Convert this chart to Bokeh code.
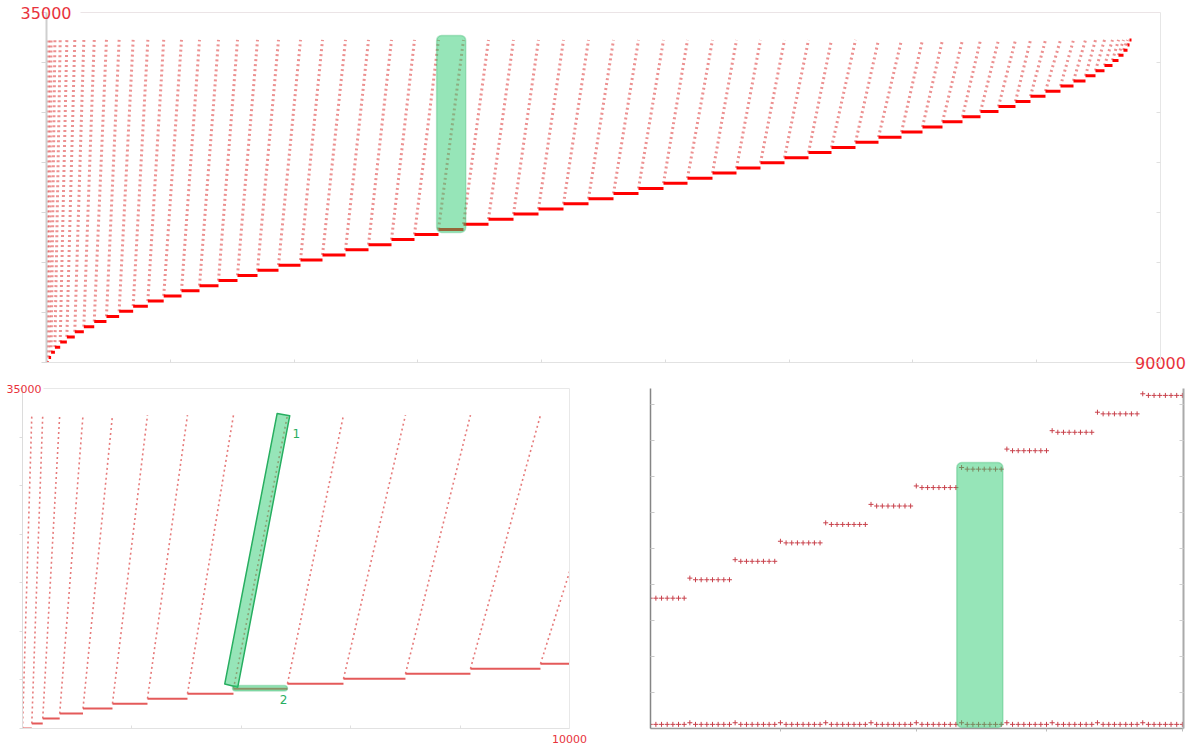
from bokeh.plotting import figure
from bokeh.layouts import column, row
from bokeh.models import Range1d, LinearAxis, FixedTicker, Label, BoxAnnotation
from bokeh.embed import file_html
from bokeh.resources import INLINE

# ---------------- data ----------------
# value levels of the runs (one level per run)
levels = [0, 512, 1024, 1536, 2048, 2560, 3072, 3584, 4096, 4608, 5120, 5632,
          6144, 6656, 7168, 7680, 8192, 8704, 9216, 9728, 10240, 10752, 11264,
          11776, 12288, 12800, 13312, 13824, 14336, 14848, 15360, 15872, 16384,
          16896, 17408, 17920, 18432, 18944, 19456, 19968, 20480, 20992, 21504,
          22016, 22528, 23040, 23552, 24064, 24576, 25088, 25600, 26112, 26624,
          27136, 27648, 28160, 28672, 29184, 29696, 30208, 30720, 31232, 31744,
          32256]
# x position where each run starts
step_starts = [0, 170, 370, 680, 1106, 1645, 2285, 3016, 3857, 4844, 5868, 7001,
               8189, 9469, 10907, 12361, 13896, 15431, 17047, 18743, 20521, 22298,
               24156, 26015, 27873, 29731, 31670, 33690, 35710, 37730, 39749, 41769,
               43789, 45808, 47828, 49848, 51787, 53806, 55745, 57684, 59623, 61562,
               63420, 65359, 67217, 69075, 70772, 72388, 74003, 75458, 76912, 78285,
               79497, 80709, 81921, 82971, 83941, 84749, 85476, 86122, 86607, 87011,
               87334, 87496]
run_end = 87657

top_x_max = 90000
y_max = 35000
zoom_x_max = 10000

# detail panel (bottom right): groups of 8 samples
rs_group_size = 8
rs_top_levels = [3620, 4132, 4644, 5156, 5668, 6180, 6692, 7204, 7716, 8228, 8740, 9252]
rs_bottom_levels = [115, 115, 115, 115, 115, 115, 115, 115, 115, 115, 115, 115]
rs_lead_bump = 45
rs_y_max = 9444

highlight_col = 26      # top panel highlight
callout_col = 8         # bottom-left callouts 1 and 2
rs_highlight_group = 7  # bottom-right highlight

RED_TXT = "#e8323c"
GREEN_FILL = "#2ecc71"
GREEN_LINE = "#27ae60"

# ---------------- derived segments ----------------
bar_x0 = step_starts
bar_x1 = step_starts[1:] + [run_end]
bar_y = levels
col_x0 = step_starts[:-1]
col_y0 = levels[:-1]
col_x1 = step_starts[1:]
col_y1 = [levels[-1]] * (len(levels) - 1)


def style_axis(ax, major, minor, tick_in, tick_out, tick_color, line_color,
               line_width=1, font_size="11px", standoff=5):
    ax.ticker = FixedTicker(ticks=major, minor_ticks=minor)
    ax.axis_line_color = line_color
    ax.axis_line_width = line_width
    ax.major_tick_in = tick_in
    ax.major_tick_out = tick_out
    ax.minor_tick_in = tick_in
    ax.minor_tick_out = tick_out
    ax.major_tick_line_color = tick_color
    ax.minor_tick_line_color = tick_color
    ax.major_label_text_color = RED_TXT
    ax.major_label_text_font = "DejaVu Sans"
    ax.major_label_text_font_size = font_size
    ax.major_label_standoff = standoff
    ax.axis_label = None


def border_axis(line_color, bounds=None):
    ax = LinearAxis()
    style_axis(ax, [], [], 0, 0, None, line_color)
    if bounds is not None:
        ax.bounds = bounds
    return ax


# ---------------- top panel ----------------
p_top = figure(width=1195, height=374, x_range=Range1d(0, top_x_max),
               y_range=Range1d(0, y_max), output_backend="svg", toolbar_location=None,
               min_border_left=46, min_border_right=35, min_border_top=12,
               min_border_bottom=12)
p_top.grid.visible = False
p_top.outline_line_color = None
style_axis(p_top.yaxis[0], [35000], [0, 5000, 10000, 15000, 20000, 25000, 30000],
           0, 5, "#d8d8d8", "#cfcfcf", 2, "16px", -30)
p_top.yaxis[0].major_label_overrides = {35000: "35000"}
style_axis(p_top.xaxis[0], [90000],
           [0, 10000, 20000, 30000, 40000, 50000, 60000, 70000, 80000],
           3, 0, "#dddddd", "#e2e2e2", 1, "16px", -6)
p_top.xaxis[0].major_label_overrides = {90000: "90000"}
ra = LinearAxis()
style_axis(ra, [], [0, 5000, 10000, 15000, 20000, 25000, 30000], 4, 0,
           "#e0e0e0", "#e6e6e6")
p_top.add_layout(ra, "right")
p_top.add_layout(border_axis("#ebe4e6", (2750, top_x_max)), "above")

p_top.segment(col_x0, col_y0, col_x1, col_y1, line_color="#e04848", line_width=3,
              line_alpha=0.6, line_dash="2 3")
p_top.segment(bar_x0, bar_y, bar_x1, bar_y, line_color="#ff0000", line_width=3)

p_top.add_layout(BoxAnnotation(left=step_starts[highlight_col] - 150,
                               right=step_starts[highlight_col + 1] + 180,
                               bottom=levels[highlight_col] - 300,
                               top=levels[-1] + 450,
                               fill_color=GREEN_FILL, fill_alpha=0.5,
                               line_color=GREEN_LINE, line_width=1.5,
                               border_radius=5))

# ---------------- bottom-left panel (zoom of the start) ----------------
bl_fw = 547
bl_fh = 351
ux = zoom_x_max / bl_fw   # data units per pixel
uy = y_max / bl_fh

p_bl = figure(width=610, height=374, x_range=Range1d(0, zoom_x_max),
              y_range=Range1d(0, y_max), output_backend="svg", toolbar_location=None,
              min_border_left=22, min_border_right=41, min_border_top=12,
              min_border_bottom=11)
p_bl.grid.visible = False
p_bl.outline_line_color = None
style_axis(p_bl.yaxis[0], [35000], [0, 5000, 10000, 15000, 20000, 25000, 30000],
           0, 3, "#dddddd", "#dcdcdc", 1, "11px", -22)
p_bl.yaxis[0].major_label_overrides = {35000: "35000"}
style_axis(p_bl.xaxis[0], [10000], [0, 2000, 4000, 6000, 8000],
           3, 0, "#e0e0e0", "#e2e2e2", 1, "11px", 6)
p_bl.xaxis[0].major_label_overrides = {10000: "10000"}
p_bl.add_layout(border_axis("#e8e8e8", (380, zoom_x_max)), "above")
p_bl.add_layout(border_axis("#e8e8e8"), "right")

p_bl.segment(col_x0, col_y0, col_x1, col_y1, line_color="#e05a5a", line_width=1.6,
             line_alpha=0.8, line_dash="2 3")
p_bl.segment(bar_x0, bar_y, bar_x1, bar_y, line_color="#e45a5a", line_width=2)

c0x, c0y = step_starts[callout_col], levels[callout_col]
c1x, c1y = step_starts[callout_col + 1], levels[-1]
p_bl.patch([c1x - 10.3 * ux, c1x + 2.3 * ux, c0x + 4.3 * ux, c0x - 8.7 * ux],
           [c1y + 1.8 * uy, c1y - 0.5 * uy, c0y + 1.6 * uy, c0y + 4.9 * uy],
           fill_color=GREEN_FILL, fill_alpha=0.5, line_color=GREEN_LINE,
           line_width=1.5, line_join="round")
p_bl.add_layout(BoxAnnotation(left=c0x - 1 * ux, right=c1x,
                              bottom=c0y - 2.4 * uy, top=c0y + 3.3 * uy,
                              fill_color=GREEN_FILL, fill_alpha=0.5,
                              line_color=GREEN_LINE, line_width=1.5,
                              border_radius=3))
p_bl.add_layout(Label(x=c1x + 5 * ux, y=c1y - 18.5 * uy, text="1",
                      text_align="left", text_baseline="middle",
                      text_color=GREEN_LINE, text_font="DejaVu Sans",
                      text_font_size="12px"))
p_bl.add_layout(Label(x=c1x - 4 * ux, y=c0y - 11.5 * uy, text="2",
                      text_align="center", text_baseline="middle",
                      text_color=GREEN_LINE, text_font="DejaVu Sans",
                      text_font_size="12px"))

# ---------------- bottom-right panel (sample detail) ----------------
rs_x, rs_top, rs_bot = [], [], []
idx = 0
for g in range(len(rs_top_levels)):
    for j in range(rs_group_size):
        rs_x.append(idx)
        bump = rs_lead_bump if j == 0 else 0
        rs_top.append(rs_top_levels[g] + bump)
        rs_bot.append(rs_bottom_levels[g] + bump)
        idx += 1

p_br = figure(width=585, height=374, x_range=Range1d(1.05, 95.2),
              y_range=Range1d(0, rs_y_max), output_backend="svg",
              toolbar_location=None, min_border_left=40, min_border_right=12,
              min_border_top=14, min_border_bottom=20)
p_br.grid.visible = False
p_br.outline_line_color = None
br_yticks = [1000, 2000, 3000, 4000, 5000, 6000, 7000, 8000, 9000]
style_axis(p_br.yaxis[0], [], br_yticks, 4, 0, "#c8c8c8", "#858585", 1.5)
style_axis(p_br.xaxis[0], [], [24, 48, 71, 95], 0, 3, "#bbbbbb", "#9a9a9a", 1.5)
rb = LinearAxis()
style_axis(rb, [], br_yticks, 4, 0, "#d0d0d0", "#aaaaaa", 2)
p_br.add_layout(rb, "right")

p_br.scatter(rs_x, rs_top, marker="cross", size=5, line_color="#c8414b", line_width=1)
p_br.scatter(rs_x, rs_bot, marker="cross", size=5, line_color="#c8414b", line_width=1)

g0 = rs_highlight_group * rs_group_size
p_br.add_layout(BoxAnnotation(left=g0 - 0.85, right=g0 + rs_group_size - 1 + 0.3,
                              bottom=28, top=rs_top_levels[rs_highlight_group] + 185,
                              fill_color=GREEN_FILL, fill_alpha=0.5,
                              line_color=GREEN_LINE, line_width=1.5,
                              border_radius=5))

layout = column(p_top, row(p_bl, p_br))
open("out.html", "w").write(file_html(layout, INLINE))
